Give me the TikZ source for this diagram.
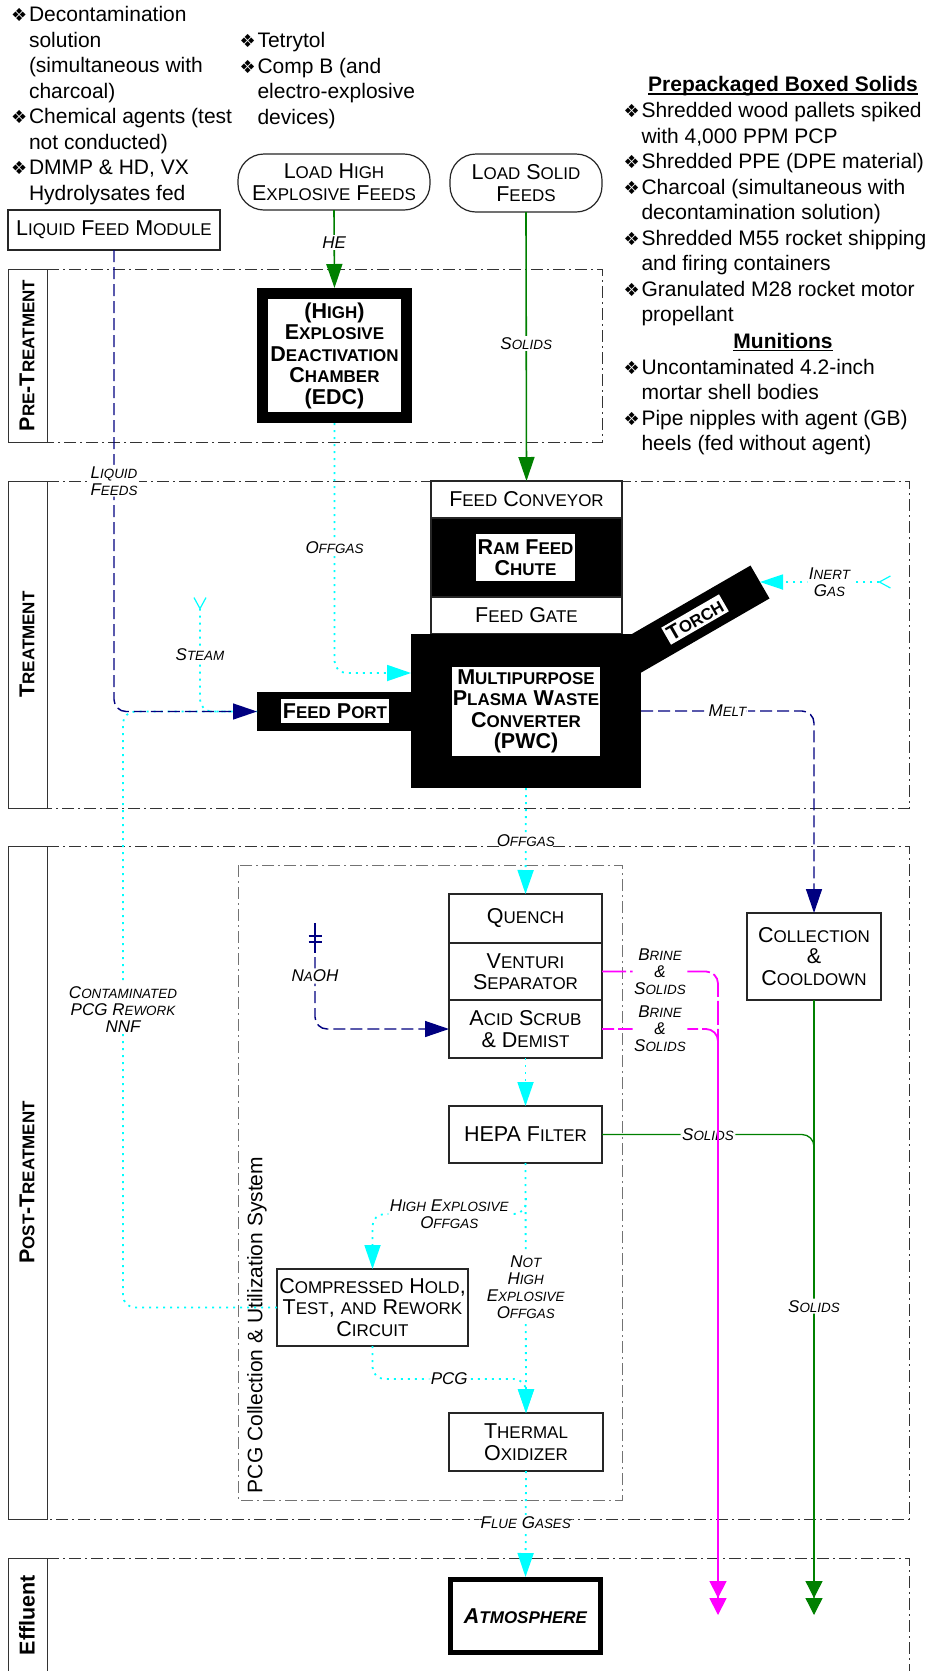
\documentclass[tikz,border=0pt]{standalone}
\usepackage{fontspec}
\setmainfont{Liberation Sans}
\newfontfamily\dingfont{DejaVu Sans}
\usetikzlibrary{arrows.meta,calc}
\makeatletter
% fake small capitals: lower-case run set as smaller capitals
\newcommand\lc[1]{{\fontsize{\fpeval{0.79*\f@size}}{\f@baselineskip}\selectfont\MakeUppercase{#1}}}
\makeatother
\newcommand\bul{\makebox[18pt][l]{\dingfont\fontsize{18}{18}\selectfont\symbol{"2756}}}
\newcommand\ind{\hspace*{18pt}}
\newcommand\ulhead[1]{\setbox0\hbox{#1}\rlap{\rule[-2.8pt]{\wd0}{1.4pt}}\box0}
\definecolor{flowgreen}{RGB}{0,128,0}
\definecolor{flownavy}{RGB}{0,0,128}
\definecolor{flowcyan}{RGB}{0,255,255}
\definecolor{flowmag}{RGB}{255,0,255}
\tikzset{
  every node/.style={inner sep=0pt, outer sep=0pt},
  txt/.style={font=\fontsize{21.5}{21.5}\selectfont, align=center},
  boldtxt/.style={font=\fontsize{21.5}{21.5}\selectfont\bfseries, align=center},
  procbox/.style={txt, draw=black!85, line width=1.2pt, fill=white},
  blackbox/.style={fill=black},
  whitelabel/.style={boldtxt, fill=white},
  lbl/.style={font=\fontsize{17}{17}\selectfont\itshape, fill=white, align=center, inner sep=1.5pt},
  listtxt/.style={font=\fontsize{21}{25.5}\selectfont, align=left, anchor=north west},
  headtxt/.style={font=\fontsize{21}{25.5}\selectfont\bfseries, anchor=base},
  bandframe/.style={draw=black!80, line width=1pt},
  banddash/.style={draw=black!80, line width=1pt, dash pattern=on 12pt off 4pt on 2pt off 4pt},
  bandtitle/.style={font=\fontsize{21.5}{21.5}\selectfont\bfseries, rotate=90},
  greenflow/.style={draw=flowgreen, line width=1.6pt},
  thingreen/.style={draw=flowgreen, line width=1.3pt, rounded corners=12pt},
  navyflow/.style={draw=flownavy, line width=1.4pt, dash pattern=on 12pt off 5pt, rounded corners=12pt},
  cyanflow/.style={draw=flowcyan, line width=1.8pt, dash pattern=on 2pt off 5pt, rounded corners=12pt},
  magflow/.style={draw=flowmag, line width=1.8pt, dash pattern=on 24pt off 4pt, rounded corners=12pt},
  bigtip/.tip={Triangle[length=24pt,width=16pt]},
  endtip/.tip={Triangle[length=17pt,width=17pt]},
  tailtip/.tip={Straight Barb[reversed,length=11pt,width=12pt,line width=1.2pt]},
}
\begin{document}
\begin{tikzpicture}[x=1pt,y=-1pt]
\fill[white] (0,0) rectangle (930,1671);
\useasboundingbox (0,0) rectangle (930,1671);

% ---------- process bands ----------
\draw[bandframe] (8,269) rectangle (47,442);
\draw[banddash] (47,269) -- (602,269) -- (602,442) -- (47,442);
\node[bandtitle] (pretitle) at (27,355.5) {P\lc{re}-T\lc{reatment}};

\draw[bandframe] (8,481) rectangle (47,808);
\draw[banddash] (47,481) -- (909,481) -- (909,808) -- (47,808);
\node[bandtitle] (treattitle) at (27,644.5) {T\lc{reatment}};

\draw[bandframe] (8,846) rectangle (47,1519);
\draw[banddash] (47,846) -- (909,846) -- (909,1519) -- (47,1519);
\node[bandtitle] (posttitle) at (27,1182.5) {P\lc{ost}-T\lc{reatment}};

\draw[bandframe] (8,1690) -- (8,1558) -- (47,1558) -- (47,1690);
\draw[banddash] (47,1558) -- (909,1558) -- (909,1690);
\node[bandtitle] (efftitle) at (27,1615) {Effluent};

% PCG collection system frame
\draw[banddash, draw=black!55] (238,865) rectangle (622,1500);
\node[font=\fontsize{21}{21}\selectfont, rotate=90, anchor=west] (pcgtitle) at (257,1493) {PCG Collection \& Utilization System};

% ---------- feed lists ----------
\node[listtxt] (liquidlist) at (11,6.3) {\bul Decontamination\\\ind solution\\\ind (simultaneous with\\\ind charcoal)\\\bul Chemical agents (test\\\ind not conducted)\\\bul DMMP \& HD, VX\\\ind Hydrolysates fed};
\node[listtxt] (helist) at (239.5,32.3) {\bul Tetrytol\\\bul Comp B (and\\\ind electro-explosive\\\ind devices)};
\node[headtxt] (solidshead) at (783,91.7) {\ulhead{Prepackaged Boxed Solids}};
\node[listtxt] (solidslist) at (623.5,102.5) {\bul Shredded wood pallets spiked\\\ind with 4,000 PPM PCP\\\bul Shredded PPE (DPE material)\\\bul Charcoal (simultaneous with\\\ind decontamination solution)\\\bul Shredded M55 rocket shipping\\\ind and firing containers\\\bul Granulated M28 rocket motor\\\ind propellant};
\node[headtxt] (munhead) at (783,348.3) {\ulhead{Munitions}};
\node[listtxt] (munlist) at (623.5,359) {\bul Uncontaminated 4.2-inch\\\ind mortar shell bodies\\\bul Pipe nipples with agent (GB)\\\ind heels (fed without agent)};

% ---------- feed sources ----------
\node[procbox, minimum width=212pt, minimum height=40pt] (lfm) at (114,230) {L\lc{iquid} F\lc{eed} M\lc{odule}};
\node[procbox, rounded corners=26pt, minimum width=192pt, minimum height=56pt] (loadhe) at (334,182) {L\lc{oad} H\lc{igh}\\E\lc{xplosive} F\lc{eeds}};
\node[procbox, rounded corners=26pt, minimum width=152pt, minimum height=58pt] (loadsolid) at (526,183) {L\lc{oad} S\lc{olid}\\F\lc{eeds}};

% ---------- pre-treatment ----------
\node[draw=black, line width=11pt, fill=white, minimum width=144pt, minimum height=124pt, outer sep=5.5pt, boldtxt] (edc) at (334.5,355.5) {(H\lc{igh})\\E\lc{xplosive}\\D\lc{eactivation}\\C\lc{hamber}\\(EDC)};

% ---------- converter ----------
\node[procbox, minimum width=191pt, minimum height=37pt] (feedconv) at (526.5,499.5) {F\lc{eed} C\lc{onveyor}};
\node[fill=black, draw=black!85, line width=1.2pt, minimum width=191pt, minimum height=79pt] (ram) at (526.5,557.5) {};
\node[whitelabel, minimum width=99pt, minimum height=47pt] (ramlbl) at (525.5,557.5) {R\lc{am} F\lc{eed}\\C\lc{hute}};
\node[procbox, minimum width=191pt, minimum height=37pt] (feedgate) at (526.5,615.5) {F\lc{eed} G\lc{ate}};
% torch arm, tilted 30 degrees about its outer end
\coordinate (torchend) at (760,582);
\fill[rotate around={30:(torchend)}] (590,563) rectangle (760,601);
\node[blackbox, minimum width=154pt, minimum height=39pt] (feedport) at (334,711.5) {};
\node[blackbox, minimum width=230pt, minimum height=154pt] (pwc) at (526,711) {};
\node[whitelabel, minimum width=108pt, minimum height=24pt] (feedportlbl) at (335,711) {F\lc{eed} P\lc{ort}};
\node[whitelabel, minimum width=148pt, minimum height=89pt] (pwclbl) at (526,711.5) {M\lc{ultipurpose}\\P\lc{lasma} W\lc{aste}\\C\lc{onverter}\\(PWC)};
\node[whitelabel, rotate=30, inner sep=2.5pt, font=\fontsize{21}{21}\selectfont\bfseries] (torchlbl) at (695,619.5) {T\lc{orch}};

% ---------- post-treatment ----------
\node[procbox, minimum width=153pt, minimum height=49pt] (quench) at (525.5,918.5) {Q\lc{uench}};
\node[procbox, minimum width=153pt, minimum height=57pt] (venturi) at (525.5,971.5) {V\lc{enturi}\\S\lc{eparator}};
\node[procbox, minimum width=153pt, minimum height=58pt] (acid) at (525.5,1029) {A\lc{cid} S\lc{crub}\\\& D\lc{emist}};
\node[procbox, minimum width=153pt, minimum height=57pt] (hepa) at (525.5,1134.5) {HEPA F\lc{ilter}};
\node[procbox, minimum width=191pt, minimum height=77pt] (comp) at (372.5,1307.5) {C\lc{ompressed} H\lc{old},\\T\lc{est}, \lc{and} R\lc{ework}\\C\lc{ircuit}};
\node[procbox, minimum width=154pt, minimum height=58pt] (thermal) at (526,1442) {T\lc{hermal}\\O\lc{xidizer}};
\node[procbox, minimum width=134pt, minimum height=87pt] (coll) at (814,956.5) {C\lc{ollection}\\\&\\C\lc{ooldown}};
\node[draw=black, line width=5pt, fill=white, minimum width=150pt, minimum height=73pt, outer sep=2.5pt, font=\fontsize{21.5}{21.5}\selectfont\bfseries\itshape] (atm) at (525.5,1616) {A\lc{tmosphere}};

% ---------- free ends ----------
\coordinate (steamsrc) at (200,597);
\coordinate (inertsrc) at (891,582);
\coordinate (naohsrc) at (315,923);
\coordinate (hebranch) at (526,1198);
\coordinate (brineend1) at (718,1598);
\coordinate (brineend2) at (718,1615);
\coordinate (solidend1) at (814,1598);
\coordinate (solidend2) at (814,1615);

% ---------- connectors ----------
% steam and reworked gas join the liquid feed line
\draw[cyanflow, tailtip-] (steamsrc) |- node[lbl,pos=0.25] {S\lc{team}} (feedport.west);
\draw[cyanflow] (comp.west) -| node[lbl,pos=0.75] {C\lc{ontaminated}\\PCG R\lc{ework}\\NNF} ($(feedport.west)+(-134,0)$) -- (feedport.west);
\draw[navyflow, -bigtip] (lfm.south) |- node[lbl,pos=0.25] {L\lc{iquid}\\F\lc{eeds}} (feedport.west);

% solid and explosive feeds
\draw[greenflow, -bigtip] (loadhe.south) -- node[lbl,pos=0.42] {HE} (edc.north);
\draw[greenflow, -bigtip] (loadsolid.south) -- node[lbl,pos=0.49] {S\lc{olids}} (feedconv.north);

% gas streams
\draw[cyanflow, -bigtip] (edc.south) |- node[lbl,pos=0.25] {O\lc{ffgas}} ($(pwc.west)+(0,-38)$);
\draw[cyanflow, tailtip-{Triangle[length=23pt,width=15pt]}] (inertsrc) -- node[lbl,pos=0.47] {I\lc{nert}\\G\lc{as}} (torchend);
\draw[cyanflow, -bigtip] (pwc.south) -- node[lbl,pos=0.5] {O\lc{ffgas}} (quench.north);
\draw[cyanflow, -bigtip] (acid.south) -- (hepa.north);
\draw[cyanflow, -bigtip] (hepa.south) -- node[lbl,pos=0.496] {N\lc{ot}\\H\lc{igh}\\E\lc{xplosive}\\O\lc{ffgas}} (thermal.north);
\draw[cyanflow, -bigtip] (hebranch) -- ++(0,16) -| node[lbl,pos=0.25] {H\lc{igh} E\lc{xplosive}\\O\lc{ffgas}} (comp.north);
\draw[cyanflow, -bigtip] (comp.south) -- ++(0,33) -| node[lbl,pos=0.25] {PCG} (thermal.north);
\draw[cyanflow, -bigtip] (thermal.south) -- node[lbl,pos=0.49] {F\lc{lue} G\lc{ases}} (atm.north);

% melt and caustic
\draw[navyflow, -bigtip] (pwc.east) -| node[lbl,pos=0.25] {M\lc{elt}} (coll.north);
\draw[draw=flownavy, line width=1.4pt] (naohsrc) -- ++(0,30);
\draw[draw=flownavy, line width=1.3pt] ($(naohsrc)+(-6.5,13)$) -- ++(13,0) ($(naohsrc)+(-6.5,19)$) -- ++(13,0);
\draw[navyflow, -bigtip] (naohsrc) |- node[lbl,pos=0.25] {N\lc{a}OH} (acid.west);

% solids and brine to effluent
\draw[thingreen, -endtip] (hepa.east) -| node[lbl,pos=0.25] {S\lc{olids}} (solidend2);
\draw[thingreen, -endtip] (coll.south) -- node[lbl,pos=0.512] {S\lc{olids}} (solidend1);
\draw[magflow, -endtip] (venturi.east) -| node[lbl,pos=0.25] {B\lc{rine}\\\&\\S\lc{olids}} (brineend1);
\draw[magflow, dash phase=12pt, -endtip] (acid.east) -| node[lbl,pos=0.25] {B\lc{rine}\\\&\\S\lc{olids}} (brineend2);
\end{tikzpicture}
\end{document}
